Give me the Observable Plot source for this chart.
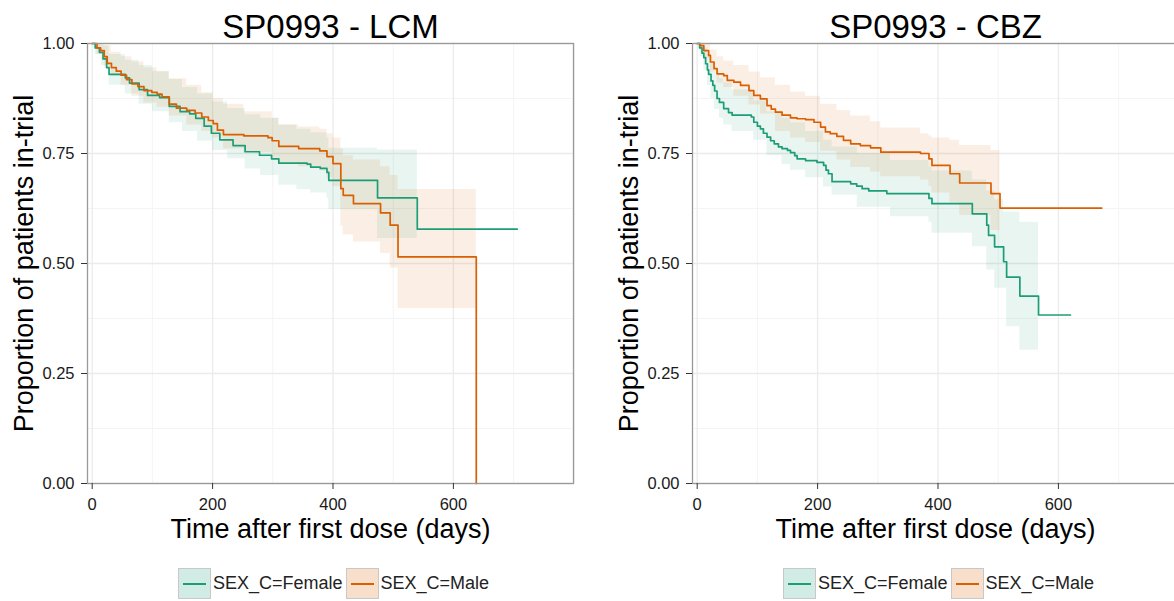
<!DOCTYPE html>
<html><head><meta charset="utf-8">
<script src="https://cdn.jsdelivr.net/npm/d3@7"></script>
<script src="https://cdn.jsdelivr.net/npm/@observablehq/plot@0.6"></script>
<style>
html,body{margin:0;padding:0;background:#fff;overflow:hidden;}
#root{position:relative;width:1174px;height:601px;overflow:hidden;font-family:"Liberation Sans",Arial,sans-serif;}
.chart{position:absolute;top:0;width:587px;height:601px;}
.legend{position:absolute;top:568px;left:178px;display:flex;align-items:center;white-space:nowrap;font-size:18px;color:#222;}
.item{display:flex;align-items:center;margin-right:3px;}
.key{width:31px;height:29px;border:1px solid #c8c8c8;position:relative;}
.key i{position:absolute;left:4px;right:4px;top:14px;height:2px;}
.item span{margin-left:2px;}
</style></head><body><div id="root"></div>
<script>
// ---- data ----
const groups = ["SEX_C=Female", "SEX_C=Male"];
const colors = ["#1b9e77", "#d95f02"];
const titles = ["SP0993 - LCM", "SP0993 - CBZ"];
const xLabel = "Time after first dose (days)";
const yLabel = "Proportion of patients in-trial";
const xTicks = [0, 200, 400, 600];
const xMajor = [0, 200, 400, 600, 800];
const xMinor = [100, 300, 500, 700];
const yTicks = [0, 0.25, 0.5, 0.75, 1];
const yMinor = [0.125, 0.375, 0.625, 0.875];
const xDomain = [-7.8, 799.5];

// [time, survival]
const lcmFemale = [[0,1],[5,0.99],[12,0.98],[18,0.965],[24,0.945],[28,0.93],[55,0.922],[62,0.91],[78,0.895],[92,0.882],[112,0.877],[128,0.857],[146,0.845],[162,0.84],[172,0.83],[186,0.812],[198,0.796],[212,0.781],[234,0.768],[254,0.754],[278,0.746],[298,0.738],[310,0.728],[357,0.726],[363,0.719],[379,0.716],[390,0.707],[393,0.689],[474,0.649],[540,0.578],[706,0.578]];
const lcmMale = [[0,1],[8,0.99],[14,0.984],[20,0.97],[25,0.955],[32,0.945],[40,0.937],[48,0.928],[57,0.918],[66,0.908],[76,0.902],[86,0.893],[99,0.889],[108,0.885],[116,0.879],[128,0.862],[140,0.853],[157,0.848],[171,0.842],[182,0.833],[193,0.825],[201,0.818],[208,0.803],[218,0.793],[252,0.79],[292,0.786],[299,0.779],[310,0.766],[343,0.761],[378,0.756],[390,0.743],[400,0.727],[413,0.67],[417,0.655],[434,0.636],[479,0.615],[495,0.587],[508,0.515],[638,0]];
// [time, lower, upper]
const lcmFemaleCI = [[0,1,1],[5,0.975,1],[15,0.95,0.995],[28,0.905,0.975],[55,0.885,0.962],[78,0.862,0.95],[100,0.845,0.937],[128,0.82,0.918],[150,0.8,0.9],[175,0.778,0.885],[200,0.757,0.867],[225,0.738,0.852],[254,0.715,0.838],[280,0.7,0.83],[310,0.678,0.815],[340,0.668,0.805],[363,0.66,0.797],[390,0.648,0.785],[393,0.622,0.762],[474,0.557,0.758],[540,0.557,0.758]];
const lcmMaleCI = [[0,1,1],[8,0.975,1],[20,0.945,0.995],[32,0.925,0.98],[48,0.905,0.97],[66,0.88,0.958],[86,0.865,0.945],[108,0.855,0.935],[128,0.835,0.92],[157,0.815,0.905],[182,0.8,0.888],[201,0.785,0.875],[218,0.76,0.862],[252,0.752,0.845],[299,0.74,0.83],[310,0.725,0.815],[343,0.72,0.81],[378,0.71,0.805],[390,0.695,0.795],[400,0.675,0.785],[413,0.585,0.76],[417,0.565,0.745],[434,0.549,0.735],[479,0.523,0.72],[495,0.49,0.7],[508,0.398,0.668],[638,0.398,0.668]];

const cbzFemale = [[0,1],[4,0.99],[8,0.978],[11,0.968],[14,0.954],[17,0.94],[19,0.93],[23,0.915],[26,0.905],[29,0.892],[33,0.875],[37,0.866],[44,0.852],[52,0.843],[58,0.837],[90,0.833],[94,0.821],[100,0.812],[105,0.806],[110,0.796],[116,0.787],[122,0.779],[128,0.772],[135,0.765],[141,0.761],[150,0.757],[155,0.752],[162,0.745],[166,0.738],[180,0.734],[199,0.73],[210,0.723],[214,0.712],[218,0.704],[224,0.686],[255,0.681],[265,0.676],[274,0.67],[285,0.665],[315,0.659],[385,0.648],[390,0.636],[457,0.613],[481,0.587],[484,0.564],[494,0.538],[509,0.504],[514,0.469],[536,0.426],[567,0.383],[620,0.383]];
const cbzMale = [[0,1],[5,0.995],[11,0.984],[19,0.973],[22,0.958],[28,0.943],[33,0.931],[44,0.927],[50,0.916],[61,0.912],[72,0.905],[86,0.893],[94,0.882],[105,0.874],[116,0.859],[123,0.851],[130,0.844],[141,0.837],[155,0.831],[166,0.829],[180,0.827],[194,0.821],[205,0.81],[213,0.799],[221,0.795],[232,0.789],[243,0.78],[255,0.772],[271,0.768],[288,0.763],[305,0.753],[371,0.75],[385,0.738],[390,0.723],[420,0.704],[436,0.683],[488,0.659],[503,0.626],[672,0.626]];
const cbzFemaleCI = [[0,1,1],[5,0.97,1],[11,0.94,0.99],[17,0.905,0.975],[23,0.875,0.955],[29,0.85,0.935],[37,0.83,0.92],[44,0.815,0.91],[58,0.8,0.895],[94,0.78,0.87],[116,0.745,0.845],[141,0.725,0.83],[155,0.712,0.82],[180,0.695,0.8],[210,0.674,0.78],[224,0.655,0.765],[266,0.628,0.75],[321,0.606,0.734],[385,0.594,0.72],[390,0.569,0.71],[457,0.538,0.69],[481,0.485,0.665],[494,0.444,0.645],[509,0.444,0.617],[514,0.356,0.617],[536,0.303,0.594],[567,0.303,0.594]];
const cbzMaleCI = [[0,1,1],[5,0.985,1],[11,0.965,0.998],[22,0.935,0.985],[33,0.91,0.97],[44,0.9,0.96],[61,0.88,0.95],[86,0.86,0.935],[105,0.84,0.922],[130,0.8,0.905],[155,0.785,0.89],[180,0.775,0.88],[205,0.755,0.862],[232,0.735,0.848],[255,0.718,0.835],[288,0.708,0.822],[305,0.697,0.808],[371,0.69,0.795],[385,0.675,0.79],[390,0.66,0.785],[420,0.638,0.78],[436,0.609,0.768],[488,0.575,0.757],[503,0.575,0.757]];

// ---- drawing ----
const FONT = '"Liberation Sans", Arial, sans-serif';
function chart(title, female, male, femaleCI, maleCI) {
  const pts = (arr) => arr.map(d => ({t: d[0], s: d[1]}));
  const ci = (arr) => arr.map(d => ({t: d[0], lo: d[1], hi: d[2]}));
  return Plot.plot({
    width: 587, height: 548,
    marginTop: 43, marginLeft: 87, marginRight: 14, marginBottom: 65,
    style: {fontFamily: FONT, fontSize: "16px", background: "transparent", color: "#1a1a1a", overflow: "visible"},
    x: {domain: xDomain},
    y: {domain: [0, 1]},
    marks: [
      Plot.ruleY(yMinor, {stroke: "#f4f4f4", strokeWidth: 1}),
      Plot.ruleX(xMinor, {stroke: "#f4f4f4", strokeWidth: 1}),
      Plot.ruleY(yTicks, {stroke: "#ebebeb", strokeWidth: 1.3}),
      Plot.ruleX(xMajor, {stroke: "#ebebeb", strokeWidth: 1.3}),
      Plot.areaY(ci(femaleCI), {x: "t", y1: "lo", y2: "hi", fill: colors[0], fillOpacity: 0.1, curve: "step-after"}),
      Plot.areaY(ci(maleCI), {x: "t", y1: "lo", y2: "hi", fill: colors[1], fillOpacity: 0.1, curve: "step-after"}),
      Plot.line(pts(female), {x: "t", y: "s", stroke: colors[0], strokeWidth: 1.7, curve: "step-after"}),
      Plot.line(pts(male), {x: "t", y: "s", stroke: colors[1], strokeWidth: 1.7, curve: "step-after"}),
      Plot.frame({stroke: "#999", strokeWidth: 1.3}),
      Plot.axisX({ticks: xTicks, tickSize: 6, tickPadding: 9, fontSize: 16.5, label: null, tickFormat: d => String(d), stroke: "#333", fill: "#1a1a1a"}),
      Plot.axisY({ticks: yTicks, tickSize: 6, tickPadding: 7, fontSize: 16.5, label: null, tickFormat: d3.format(".2f"), stroke: "#333", fill: "#1a1a1a"}),
      Plot.text([title], {text: d => d, frameAnchor: "top", textAnchor: "middle", dy: -6, lineAnchor: "bottom", fontSize: 33, fill: "#000"}),
      Plot.text([xLabel], {text: d => d, frameAnchor: "bottom", textAnchor: "middle", dy: 54, lineAnchor: "bottom", fontSize: 27, fill: "#000"}),
      Plot.text([yLabel], {text: d => d, frameAnchor: "left", textAnchor: "middle", dx: -55, rotate: -90, lineAnchor: "bottom", fontSize: 27, fill: "#000"})
    ]
  });
}

function legend() {
  const lg = document.createElement("div");
  lg.className = "legend";
  groups.forEach((g, i) => {
    const item = document.createElement("div");
    item.className = "item";
    const key = document.createElement("div");
    key.className = "key";
    const c = d3.color(colors[i]);
    key.style.background = `rgba(${c.r},${c.g},${c.b},0.2)`;
    const ln = document.createElement("i");
    ln.style.background = colors[i];
    key.appendChild(ln);
    const sp = document.createElement("span");
    sp.textContent = g;
    item.appendChild(key);
    item.appendChild(sp);
    lg.appendChild(item);
  });
  return lg;
}

const root = document.getElementById("root");
const data = [[lcmFemale, lcmMale, lcmFemaleCI, lcmMaleCI], [cbzFemale, cbzMale, cbzFemaleCI, cbzMaleCI]];
[0, 605].forEach((left, k) => {
  const div = document.createElement("div");
  div.className = "chart";
  div.style.left = left + "px";
  div.appendChild(chart(titles[k], ...data[k]));
  div.appendChild(legend());
  root.appendChild(div);
});
</script></body></html>
